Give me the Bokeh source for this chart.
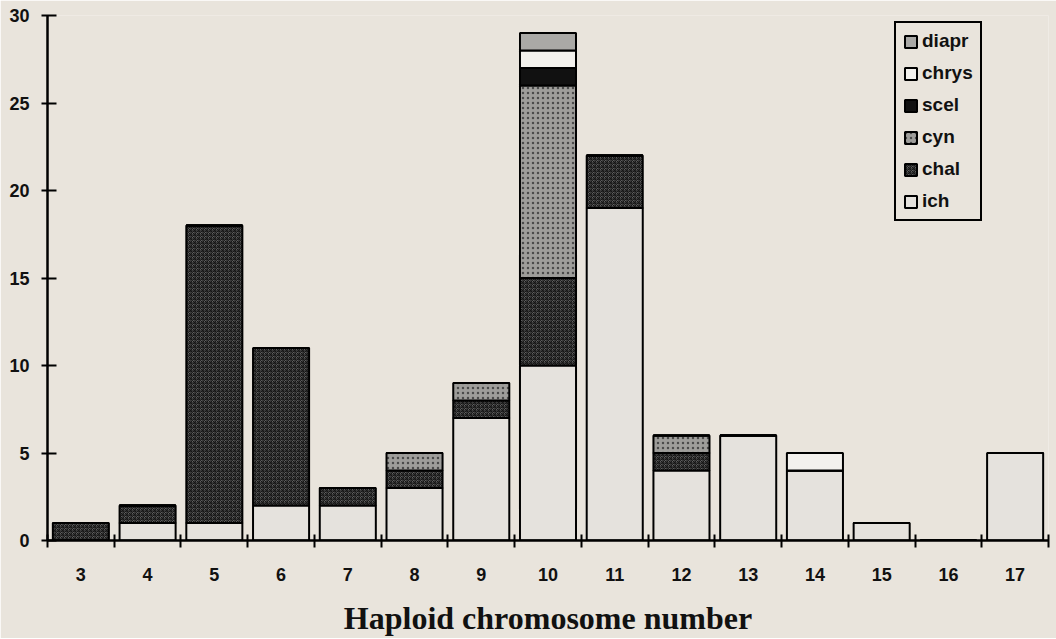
from bokeh.plotting import figure
from bokeh.models import FixedTicker, Range1d, Legend, LegendItem
from bokeh.embed import file_html
from bokeh.resources import INLINE

# ---- data ----
chromosome = [3, 4, 5, 6, 7, 8, 9, 10, 11, 12, 13, 14, 15, 16, 17]
ich   = [0, 1, 1, 2, 2, 3, 7, 10, 19, 4, 6, 4, 1, 0, 5]
chal  = [1, 1, 17, 9, 1, 1, 1, 5, 3, 1, 0, 0, 0, 0, 0]
cyn   = [0, 0, 0, 0, 0, 1, 1, 11, 0, 1, 0, 0, 0, 0, 0]
scel  = [0, 0, 0, 0, 0, 0, 0, 1, 0, 0, 0, 0, 0, 0, 0]
chrys = [0, 0, 0, 0, 0, 0, 0, 1, 0, 0, 0, 1, 0, 0, 0]
diapr = [0, 0, 0, 0, 0, 0, 0, 1, 0, 0, 0, 0, 0, 0, 0]
series = ["ich", "chal", "cyn", "scel", "chrys", "diapr"]
y_ticks = [0, 5, 10, 15, 20, 25, 30]
x_title = "Haploid chromosome number"

BG = "#e9e4dc"
styles = {
    "ich":   dict(fill_color="#e5e2dd"),
    "chal":  dict(fill_color="#5e5e5e", hatch_pattern="criss_cross", hatch_color="#151515", hatch_scale=4, hatch_weight=1),
    "cyn":   dict(fill_color="#9e9d9a", hatch_pattern="dot", hatch_color="#4a4a4a", hatch_scale=5, hatch_weight=1),
    "scel":  dict(fill_color="#111111"),
    "chrys": dict(fill_color="#f3f1ed"),
    "diapr": dict(fill_color="#aaa9a6"),
}

data = dict(ich=ich, chal=chal, cyn=cyn, scel=scel, chrys=chrys, diapr=diapr)

p = figure(width=1056, height=638, output_backend="svg", toolbar_location=None,
           x_range=Range1d(chromosome[0] - 0.5, chromosome[-1] + 0.5),
           y_range=Range1d(0, 30),
           min_border_left=47, min_border_right=8, min_border_top=15, min_border_bottom=97)
p.background_fill_color = BG
p.border_fill_color = BG
p.outline_line_color = None
p.xgrid.visible = False
p.ygrid.visible = False

renderers = []
bottoms = [0] * len(chromosome)
for name in series:
    vals = data[name]
    tops = [b + v for b, v in zip(bottoms, vals)]
    r = p.vbar(x=chromosome, bottom=bottoms, top=tops, width=0.84,
               line_color="black", line_width=2, **styles[name])
    renderers.append((name, r))
    bottoms = tops

# axes
p.xaxis.ticker = FixedTicker(ticks=chromosome,
                             minor_ticks=[c - 0.5 for c in chromosome] + [chromosome[-1] + 0.5])
p.xaxis.major_tick_line_color = None
p.xaxis.major_tick_out = 0
p.xaxis.major_tick_in = 0
p.xaxis.minor_tick_line_color = "black"
p.xaxis.minor_tick_line_width = 2
p.xaxis.minor_tick_out = 7
p.xaxis.minor_tick_in = 6
p.xaxis.major_label_standoff = 20
p.xaxis.axis_line_width = 2.5
p.xaxis.major_label_text_font = "Liberation Sans"
p.xaxis.major_label_text_font_style = "bold"
p.xaxis.major_label_text_font_size = "18px"
p.xaxis.major_label_text_color = "#111111"
p.xaxis.axis_label = x_title
p.xaxis.axis_label_text_font = "Liberation Serif"
p.xaxis.axis_label_text_font_style = "bold"
p.xaxis.axis_label_text_font_size = "32px"
p.xaxis.axis_label_text_color = "#111111"
p.xaxis.axis_label_standoff = 16

p.yaxis.ticker = FixedTicker(ticks=y_ticks)
p.yaxis.minor_tick_line_color = None
p.yaxis.major_tick_line_width = 2
p.yaxis.major_tick_out = 6
p.yaxis.major_tick_in = 9
p.yaxis.major_label_standoff = 12
p.yaxis.axis_line_width = 2.5
p.yaxis.major_label_text_font = "Liberation Sans"
p.yaxis.major_label_text_font_style = "bold"
p.yaxis.major_label_text_font_size = "18px"
p.yaxis.major_label_text_color = "#111111"

legend = Legend(items=[LegendItem(label=n, renderers=[r]) for n, r in reversed(renderers)],
                location=(847, 319))
legend.border_line_color = "black"
legend.border_line_alpha = 1.0
legend.border_line_width = 2
legend.background_fill_color = BG
legend.background_fill_alpha = 1
legend.label_text_font = "Liberation Sans"
legend.label_text_font_style = "bold"
legend.label_text_font_size = "19px"
legend.label_text_color = "#111111"
legend.glyph_height = 15
legend.glyph_width = 15
legend.label_height = 22
legend.spacing = 10
legend.padding = 7
legend.margin = 0
legend.label_standoff = 4
p.add_layout(legend, "center")

open("out.html", "w").write(file_html(p, INLINE))
